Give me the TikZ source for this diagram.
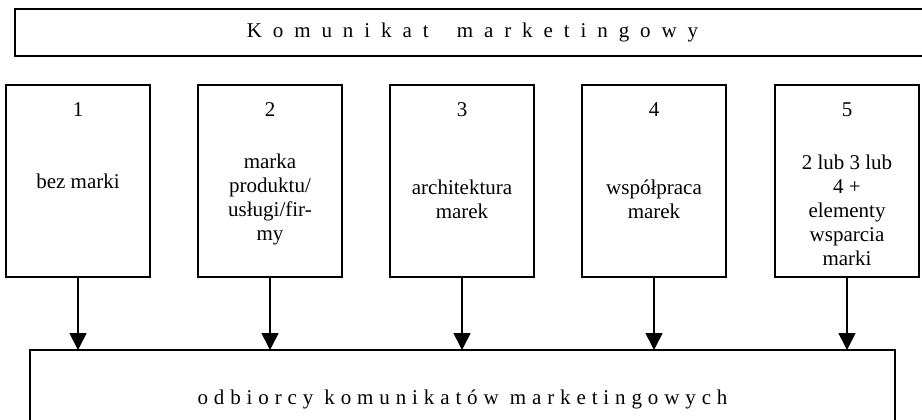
\documentclass[tikz,border=0pt]{standalone}
\usepackage{fontspec}
\setmainfont{Liberation Serif}
\newfontfamily\trackwide[LetterSpace=52]{Liberation Serif}
\newfontfamily\tracknarrow[LetterSpace=28]{Liberation Serif}
\usetikzlibrary{arrows.meta}
\begin{document}
\begin{tikzpicture}[x=1pt,y=-1pt,
  frame/.style={draw=black, line width=1.2pt, inner sep=0pt, outer sep=0pt},
  colbox/.style={frame, minimum width=144pt, minimum height=192pt, anchor=north west},
  txt/.style={font=\fontsize{21}{24}\selectfont, align=center, inner sep=0pt},
  link/.style={line width=1.7pt, -{Triangle[length=17pt,width=17pt]}}
]
\useasboundingbox (0,0) rectangle (922,420);
\clip (0,0) rectangle (922,420);
\fill[white] (0,0) rectangle (922,420);

% top box (extends beyond right edge)
\node[frame, minimum width=915pt, minimum height=47pt, anchor=north west,
      font=\fontsize{21}{24}\trackwide] (top) at (15,9) {Komunikat\hspace{12pt} marketingowy};

% column boxes
\node[colbox] (b1) at (6,85) {};
\node[colbox] (b2) at (198,85) {};
\node[colbox] (b3) at (390,85) {};
\node[colbox] (b4) at (582,85) {};
\node[colbox] (b5) at (775,85) {};

\node[txt] (n1) at (78,110) {1};
\node[txt] (n2) at (270,110) {2};
\node[txt] (n3) at (462,110) {3};
\node[txt] (n4) at (654,110) {4};
\node[txt] (n5) at (847,110) {5};

\node[txt] (t1) at (78,181) {bez marki};
\node[txt] (t2) at (270,199) {marka\\produktu/\\usługi/fir-\\my};
\node[txt] (t3) at (462,199) {architektura\\marek};
\node[txt] (t4) at (654,199) {współpraca\\marek};
\node[txt] (t5) at (847,210) {2 lub 3 lub\\4 +\\elementy\\wsparcia\\marki};

% bottom box (extends beyond bottom edge)
\node[frame, minimum width=865pt, minimum height=98pt, anchor=north west,
      font=\fontsize{21}{24}\tracknarrow] (bottom) at (30,350) {odbiorcy komunikatów marketingowych};

% connectors
\foreach \i in {1,...,5} {
  \draw[link] (b\i.south) -- (b\i.south |- bottom.north);
}
\end{tikzpicture}
\end{document}
